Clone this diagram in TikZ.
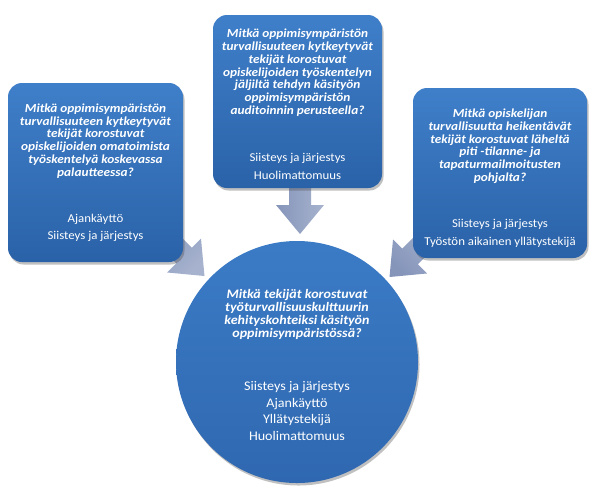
\documentclass[tikz,border=0pt]{standalone}
\usepackage{fontspec}
\setmainfont{Carlito}
\newfontfamily\qfont[FakeStretch=1.08]{Carlito}
\newfontfamily\ifont[FakeStretch=1.07]{Carlito}
\usetikzlibrary{shadows,calc}
\newcommand\tightlines{\lineskiplimit-20pt\relax}
\definecolor{boxtop}{HTML}{3F7FC9}
\definecolor{boxbot}{HTML}{2A62A8}
\definecolor{circtop}{HTML}{3B7BC6}
\definecolor{circbot}{HTML}{2F68B0}
\definecolor{arrA}{HTML}{8595BA}
\definecolor{arrB}{HTML}{A7B3CE}
\tikzset{
  qbox/.style={rounded corners=14pt, top color=boxtop, bottom color=boxbot, draw=none,
    inner sep=0pt,
    drop shadow={shadow xshift=1.5pt, shadow yshift=-2.5pt, opacity=0.35, fill=black!70}},
  qcirc/.style={circle, top color=circtop, bottom color=circbot, draw=none,
    inner sep=0pt,
    drop shadow={shadow xshift=1.5pt, shadow yshift=-2.5pt, opacity=0.35, fill=black!70}},
  qtext/.style={text=white, align=center, inner sep=0pt,
    font=\fontsize{12}{12.7}\selectfont\tightlines},
  ctext/.style={text=white, align=center, inner sep=0pt,
    font=\fontsize{12}{13}\selectfont\tightlines},
  blockarrow/.style={left color=arrA, right color=arrB, draw=none}
}
\newcommand\qq[1]{{\qfont\bfseries\itshape\fontsize{12.3}{12.7}\selectfont #1}}
\newcommand\qc[1]{{\qfont\bfseries\itshape\fontsize{13}{13}\selectfont #1}}
\newcommand\ii[1]{{\ifont\fontsize{12}{12.7}\selectfont #1}}
\newcommand\ic[1]{{\ifont\fontsize{13.2}{13}\selectfont #1}}
\newcommand\blockarr[3]{%
  \path[blockarrow, shading angle=#2]
    ($(#1)+(#2+180:#3)+(#2+90:11)$) -- ($(#1)+(#2+90:11)$) -- ($(#1)+(#2+90:24)$)
    -- ($(#1)+(#2:29)$) -- ($(#1)+(#2-90:24)$) -- ($(#1)+(#2-90:11)$)
    -- ($(#1)+(#2+180:#3)+(#2-90:11)$) -- cycle;}
\begin{document}
\begin{tikzpicture}[x=1pt,y=-1pt]
\useasboundingbox[fill=white] (0,0) rectangle (593,496);
% arrow bases
\coordinate (bl) at (184,255.5);
\coordinate (bt) at (300,205);
\coordinate (br) at (410,256.5);
\blockarr{bl}{45}{40}
\blockarr{bt}{90}{30}
\blockarr{br}{135}{40}
% boxes
\node[qbox, minimum width=175pt, minimum height=179pt] (left) at (95.5,172.5) {};
\node[qbox, minimum width=169pt, minimum height=173pt] (top) at (297.5,101.5) {};
\node[qbox, minimum width=174pt, minimum height=170pt] (right) at (500,173) {};
\node[qcirc, minimum size=242pt] (center) at (297,362) {};
% texts
\node[qtext] (lefttext) at ($(left)+(0,0.5)$) {%
  \qq{Mitkä oppimisympäristön}\\ \qq{turvallisuuteen kytkeytyvät}\\ \qq{tekijät korostuvat}\\
  \qq{opiskelijoiden omatoimista}\\ \qq{työskentelyä koskevassa}\\ \qq{palautteessa?}\\[34pt]
  \ii{Ajankäyttö}\\[4.5pt] \ii{Siisteys ja järjestys}};
\node[qtext] (toptext) at ($(top)+(0,3)$) {%
  \qq{Mitkä oppimisympäristön}\\ \qq{turvallisuuteen kytkeytyvät}\\ \qq{tekijät korostuvat}\\
  \qq{opiskelijoiden työskentelyn}\\ \qq{jäljiltä tehdyn käsityön}\\ \qq{oppimisympäristön}\\
  \qq{auditoinnin perusteella?}\\[35pt]
  \ii{Siisteys ja järjestys}\\[5pt] \ii{Huolimattomuus}};
\node[qtext] (righttext) at ($(right)+(0,5.5)$) {%
  \qq{Mitkä opiskelijan}\\ \qq{turvallisuutta heikentävät}\\ \qq{tekijät korostuvat läheltä}\\
  \qq{piti -tilanne- ja}\\ \qq{tapaturmailmoitusten}\\ \qq{pohjalta?}\\[33pt]
  \ii{Siisteys ja järjestys}\\[6pt] \ii{Työstön aikainen yllätystekijä}};
\node[ctext] (centertext) at ($(center)+(0,3)$) {%
  \qc{Mitkä tekijät korostuvat}\\ \qc{työturvallisuuskulttuurin}\\ \qc{kehityskohteiksi käsityön}\\
  \qc{oppimisympäristössä?}\\[40pt]
  \ic{Siisteys ja järjestys}\\[3.7pt]
  \ic{Ajankäyttö}\\[3.7pt]
  \ic{Yllätystekijä}\\[3.7pt]
  \ic{Huolimattomuus}};
\end{tikzpicture}
\end{document}
